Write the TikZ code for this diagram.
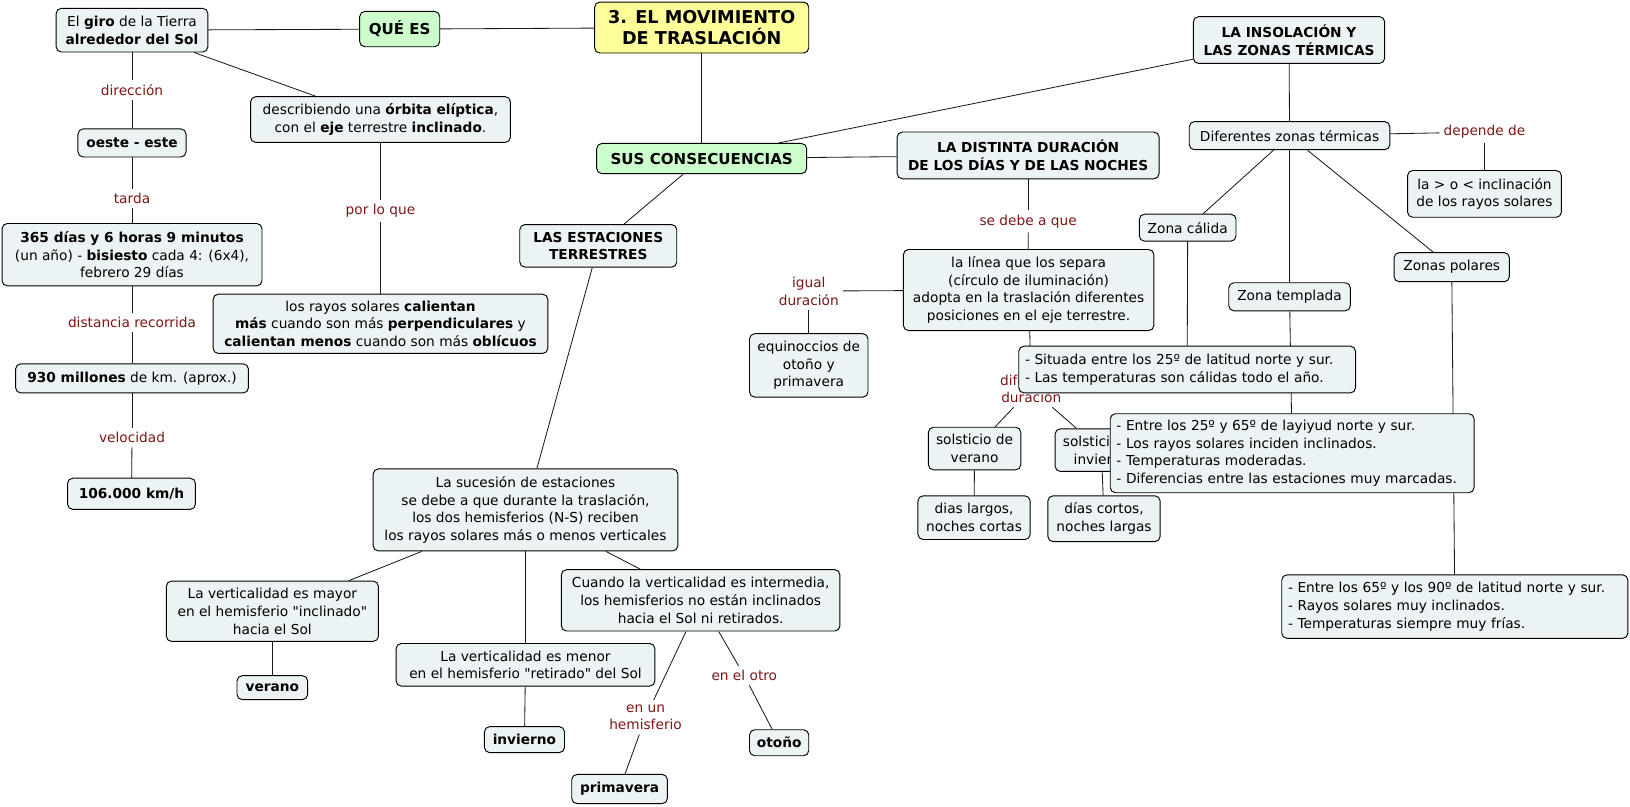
\documentclass[tikz,border=0pt]{standalone}
\usepackage{fontspec}
\setmainfont{DejaVu Sans}
\newfontfamily\plainq{DejaVu Sans}
\usetikzlibrary{backgrounds}
\definecolor{nodefill}{RGB}{236,243,245}
\definecolor{greenfill}{RGB}{204,255,204}
\definecolor{yellowfill}{RGB}{255,255,153}
\definecolor{lblred}{RGB}{125,22,22}
\newcommand\fsn{\fontsize{13.2}{17}\selectfont}
\newcommand\fsg{\fontsize{14.5}{18}\selectfont}
\newcommand\fst{\fontsize{17}{20}\selectfont}
\newcommand\qt[1]{{\plainq"}#1{\plainq"}}
\tikzset{
  box/.style={draw=black, line width=0.9pt, rounded corners=5pt, fill=nodefill,
    align=center, inner xsep=4pt, inner ysep=3pt, font=\fsn},
  bbox/.style={box, font=\fsn\bfseries},
  lbox/.style={box, align=left, inner xsep=6pt},
  gbox/.style={box, fill=greenfill, font=\fsg\bfseries},
  ybox/.style={box, fill=yellowfill, font=\fst\bfseries},
  lbl/.style={text=lblred, align=center, inner sep=4pt, font=\fsn},
  link/.style={draw=black!90, line width=0.8pt},
  sz/.style 2 args={minimum width=#1pt, minimum height=#2pt}
}
\begin{document}
\begin{tikzpicture}[x=1pt,y=-1pt]
\useasboundingbox (0,0) rectangle (1568,775.4);

% ---------- top / left ----------
\node[ybox, sz={206}{49}] (main) at (675,26.5) {3. EL MOVIMIENTO\\DE TRASLACIÓN};
\node[gbox, sz={77}{34}] (quees) at (384.5,28) {QUÉ ES};
\node[box, sz={146}{42}] (giro) at (127,29) {El \textbf{giro} de la Tierra\\\textbf{alrededor del Sol}};
\node[box, sz={250}{44}] (desc) at (366,115) {describiendo una \textbf{órbita elíptica},\\con el \textbf{eje} terrestre \textbf{inclinado}.};
\node[bbox, sz={104}{27}] (oeste) at (127,137.5) {oeste - este};
\node[box, sz={250}{60}] (d365) at (127,245) {\textbf{365 días y 6 horas 9 minutos}\\(un año) - \textbf{bisiesto} cada 4: (6x4),\\febrero 29 días};
\node[box, sz={322}{57}] (rayos) at (366,311.5) {los rayos solares \textbf{calientan}\\\textbf{más} cuando son más \textbf{perpendiculares} y\\\textbf{calientan menos} cuando son más \textbf{oblícuos}};
\node[box, sz={224}{28}] (m930) at (127,364) {\textbf{930 millones} de km. (aprox.)};
\node[bbox, sz={123}{30}] (k106) at (126.5,475) {106.000 km/h};

\node[lbl] (ldir) at (127,87) {dirección};
\node[lbl] (ltarda) at (127,191) {tarda};
\node[lbl] (ldist) at (127,310) {distancia recorrida};
\node[lbl] (lvel) at (127,421) {velocidad};
\node[lbl] (lpor) at (366,203) {por lo que};

% ---------- consecuencias / estaciones ----------
\node[gbox, sz={202}{29}] (sus) at (675,152.5) {SUS CONSECUENCIAS};
\node[bbox, sz={151}{41}] (estac) at (575.5,236.5) {LAS ESTACIONES\\TERRESTRES};
\node[box, sz={293}{79}] (suc) at (505.5,490.5) {La sucesión de estaciones\\se debe a que durante la traslación,\\los dos hemisferios (N-S) reciben\\los rayos solares más o menos verticales};
\node[box, sz={204}{58}] (mayor) at (262,588) {La verticalidad es mayor\\en el hemisferio \qt{inclinado}\\hacia el Sol};
\node[box, sz={249}{41}] (menor) at (505.5,639.5) {La verticalidad es menor\\en el hemisferio \qt{retirado} del Sol};
\node[box, sz={268}{59}] (interm) at (674,577.5) {Cuando la verticalidad es intermedia,\\los hemisferios no están inclinados\\hacia el Sol ni retirados.};
\node[bbox, sz={68}{23}] (verano) at (262,661.5) {verano};
\node[bbox, sz={77}{25}] (invierno) at (504.5,711.5) {invierno};
\node[bbox, sz={57}{25}] (otono) at (749.5,714.5) {otoño};
\node[bbox, sz={92}{28}] (prima) at (596,759) {primavera};
\node[lbl] (lotro) at (716,650) {en el otro};
\node[lbl] (lun) at (621,690) {en un\\hemisferio};

% ---------- duración días / noches ----------
\node[bbox, sz={252}{45}] (dist) at (989,149.5) {LA DISTINTA DURACIÓN\\DE LOS DÍAS Y DE LAS NOCHES};
\node[lbl] (lsedebe) at (989,213) {se debe a que};
\node[box, sz={241}{78}] (linea) at (989.5,279) {la línea que los separa\\(círculo de iluminación)\\adopta en la traslación diferentes\\posiciones en el eje terrestre.};
\node[lbl] (ligual) at (778,280) {igual\\duración};
\node[box, sz={114}{61}] (equin) at (778,351.5) {equinoccios de\\otoño y\\primavera};
\node[lbl] (ldif) at (992,374) {diferente\\duración};
\node[box, sz={89}{41}] (solsver) at (937.5,431.5) {solsticio de\\verano};
\node[box, sz={89}{41}] (solsinv) at (1059.5,433) {solsticio de\\invierno};
\node[box, sz={108}{42}] (largos) at (937,498) {dias largos,\\noches cortas};
\node[box, sz={108}{44}] (cortos) at (1062,499) {días cortos,\\noches largas};

% ---------- insolación ----------
\node[bbox, sz={184}{45}] (insol) at (1240,38.5) {LA INSOLACIÓN Y\\LAS ZONAS TÉRMICAS};
\node[box, sz={193}{27}] (difz) at (1240.5,130.5) {Diferentes zonas térmicas};
\node[lbl] (ldep) at (1428,127) {depende de};
\node[box, sz={148}{45}] (inclin) at (1428,186.5) {la > o < inclinación\\de los rayos solares};
\node[box, sz={93}{26}] (zcal) at (1142.5,219) {Zona cálida};
\node[box, sz={117}{27}] (ztem) at (1240.5,285.5) {Zona templada};
\node[box, sz={111}{28}] (zpol) at (1396.5,257) {Zonas polares};
\node[lbox, text width=312pt, minimum height=45pt] (caltxt) at (1142,355.5) {- Situada entre los 25º de latitud norte y sur.\\- Las temperaturas son cálidas todo el año.};
\node[lbox, text width=338pt, minimum height=76pt] (temtxt) at (1243,436) {- Entre los 25º y 65º de layiyud norte y sur.\\- Los rayos solares inciden inclinados.\\- Temperaturas moderadas.\\- Diferencias entre las estaciones muy marcadas.};
\node[lbox, text width=321pt, minimum height=61pt] (poltxt) at (1399.5,583.5) {- Entre los 65º y los 90º de latitud norte y sur.\\- Rayos solares muy inclinados.\\- Temperaturas siempre muy frías.};

% ---------- connectors ----------
\begin{pgfonlayer}{background}
\draw[link] (giro) -- (quees);
\draw[link] (quees) -- (main);
\draw[link] (giro) -- (desc);
\draw[link] (giro) -- (ldir);
\draw[link] (ldir) -- (oeste);
\draw[link] (oeste) -- (ltarda);
\draw[link] (ltarda) -- (d365);
\draw[link] (d365) -- (ldist);
\draw[link] (ldist) -- (m930);
\draw[link] (m930) -- (lvel);
\draw[link] (lvel) -- (k106);
\draw[link] (desc) -- (lpor);
\draw[link] (lpor) -- (rayos);
\draw[link] (main) -- (sus);
\draw[link] (sus) -- (estac);
\draw[link] (sus) -- (dist);
\draw[link] (sus) -- (insol);
\draw[link] (estac) -- (suc);
\draw[link] (suc) -- (mayor);
\draw[link] (suc) -- (menor);
\draw[link] (suc) -- (interm);
\draw[link] (mayor) -- (verano);
\draw[link] (menor) -- (invierno);
\draw[link] (interm) -- (lun);
\draw[link] (lun) -- (prima);
\draw[link] (interm) -- (lotro);
\draw[link] (lotro) -- (otono);
\draw[link] (dist) -- (lsedebe);
\draw[link] (lsedebe) -- (linea);
\draw[link] (linea) -- (ligual);
\draw[link] (ligual) -- (equin);
\draw[link] (linea) -- (ldif);
\draw[link] (ldif) -- (solsver);
\draw[link] (ldif) -- (solsinv);
\draw[link] (solsver) -- (largos);
\draw[link] (solsinv) -- (cortos);
\draw[link] (insol) -- (difz);
\draw[link] (difz) -- (ldep);
\draw[link] (ldep) -- (inclin);
\draw[link] (difz) -- (zcal);
\draw[link] (difz) -- (ztem);
\draw[link] (difz) -- (zpol);
\draw[link] (zcal) -- (caltxt);
\draw[link] (ztem) -- (temtxt);
\draw[link] (zpol) -- (poltxt);
\end{pgfonlayer}
\end{tikzpicture}
\end{document}
